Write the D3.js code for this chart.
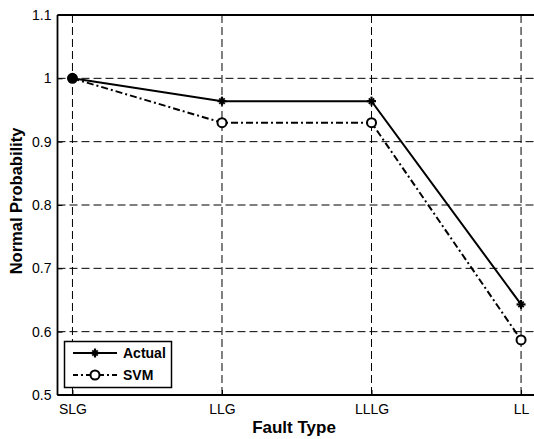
<!DOCTYPE html>
<html><head><meta charset="utf-8">
<script src="https://cdn.jsdelivr.net/npm/d3@7"></script>
<style>body{margin:0;background:#fff;}svg{display:block;font-family:"Liberation Sans",Arial,sans-serif;}</style>
</head><body>
<svg id="c" width="534" height="439"></svg>
<script>
const categories = ["SLG","LLG","LLLG","LL"];
const actual = [1.0, 0.964, 0.964, 0.643];
const svm = [1.0, 0.93, 0.93, 0.587];
const yTicks = [0.5,0.6,0.7,0.8,0.9,1.0,1.1];
const yTickLabels = ["0.5","0.6","0.7","0.8","0.9","1","1.1"];
const seriesNames = ["Actual","SVM"];

const svg = d3.select("#c");
const L = 57.5, R = 536, T = 15, B = 395;
const x = d3.scaleLinear().domain([0.9, 4.1]).range([L, R]);
const y = d3.scaleLinear().domain([0.5, 1.1]).range([B, T]);

svg.append("rect").attr("x",0).attr("y",0).attr("width",534).attr("height",439).attr("fill","#fff");

// grid
const g = svg.append("g");
g.selectAll(".hg").data(yTicks).enter().append("line")
  .attr("x1",L).attr("x2",R).attr("y1",d=>y(d)).attr("y2",d=>y(d))
  .attr("stroke","#000").attr("stroke-width",1).attr("stroke-dasharray","8,4");
g.selectAll(".vg").data(categories).enter().append("line")
  .attr("x1",(d,i)=>x(i+1)).attr("x2",(d,i)=>x(i+1)).attr("y1",T).attr("y2",B)
  .attr("stroke","#000").attr("stroke-width",1).attr("stroke-dasharray","8,4");

// axes
const yAxis = d3.axisLeft(y).tickValues(yTicks).tickFormat((d,i)=>yTickLabels[i]).tickSize(-5).tickPadding(6);
const ya = svg.append("g").attr("transform",`translate(${L},0)`).call(yAxis);
const xAxis = d3.axisBottom(x).tickValues([1,2,3,4]).tickFormat((d,i)=>categories[i]).tickSize(-5).tickPadding(9);
const xa = svg.append("g").attr("transform",`translate(0,${B})`).call(xAxis);
[ya,xa].forEach(a=>{
  a.select(".domain").remove();
  a.selectAll(".tick line").attr("stroke","#000").attr("stroke-width",1);
  a.selectAll(".tick text").attr("fill","#000").attr("font-size","14px").attr("font-family","Liberation Sans, Arial, sans-serif");
});
// frame lines
svg.append("line").attr("x1",L).attr("x2",L).attr("y1",T).attr("y2",B).attr("stroke","#000").attr("stroke-width",1.8);
svg.append("line").attr("x1",L).attr("x2",R).attr("y1",B).attr("y2",B).attr("stroke","#000").attr("stroke-width",1.8);
svg.append("line").attr("x1",L).attr("x2",R).attr("y1",T).attr("y2",T).attr("stroke","#000").attr("stroke-width",1.8);

// series
const line = d3.line().x((d,i)=>x(i+1)).y(d=>y(d));
svg.append("path").datum(svm).attr("d",line).attr("fill","none").attr("stroke","#000").attr("stroke-width",2).attr("stroke-dasharray","7,3,2,3");
svg.append("path").datum(actual).attr("d",line).attr("fill","none").attr("stroke","#000").attr("stroke-width",2);

function star(sel, cx, cy){
  const s=4.5;
  const gg = sel.append("g").attr("stroke","#000").attr("stroke-width",2.2);
  gg.append("line").attr("x1",cx-s).attr("x2",cx+s).attr("y1",cy).attr("y2",cy);
  gg.append("line").attr("x1",cx).attr("x2",cx).attr("y1",cy-s).attr("y2",cy+s);
  const d=s*0.6;
  gg.append("line").attr("x1",cx-d).attr("x2",cx+d).attr("y1",cy-d).attr("y2",cy+d).attr("stroke-width",1.8);
  gg.append("line").attr("x1",cx-d).attr("x2",cx+d).attr("y1",cy+d).attr("y2",cy-d).attr("stroke-width",1.8);
}
svm.forEach((v,i)=>{
  svg.append("circle").attr("cx",x(i+1)).attr("cy",y(v)).attr("r",4.5).attr("fill",i===0?"#000":"#fff").attr("stroke","#000").attr("stroke-width",2);
});
actual.forEach((v,i)=>star(svg, x(i+1), y(v)));

// legend
const lg = svg.append("g");
lg.append("rect").attr("x",64.5).attr("y",341.5).attr("width",107).attr("height",46).attr("fill","#fff").attr("stroke","#000").attr("stroke-width",1.5);
lg.append("line").attr("x1",73).attr("x2",117).attr("y1",353).attr("y2",353).attr("stroke","#000").attr("stroke-width",2);
star(lg,95,353);
lg.append("line").attr("x1",73).attr("x2",117).attr("y1",375).attr("y2",375).attr("stroke","#000").attr("stroke-width",2).attr("stroke-dasharray","5,3,2,3");
lg.append("circle").attr("cx",95).attr("cy",375).attr("r",4.5).attr("fill","#fff").attr("stroke","#000").attr("stroke-width",2);
lg.append("text").attr("x",123).attr("y",358).attr("font-size","14px").attr("font-weight","bold").text(seriesNames[0]);
lg.append("text").attr("x",123).attr("y",380).attr("font-size","14px").attr("font-weight","bold").text(seriesNames[1]);

// axis titles
svg.append("text").attr("x",294).attr("y",433).attr("text-anchor","middle").attr("font-size","17px").attr("font-weight","bold").text("Fault Type");
svg.append("text").attr("transform","translate(22,201) rotate(-90)").attr("text-anchor","middle").attr("font-size","16.5px").attr("font-weight","bold").text("Normal Probability");
</script>
</body></html>
